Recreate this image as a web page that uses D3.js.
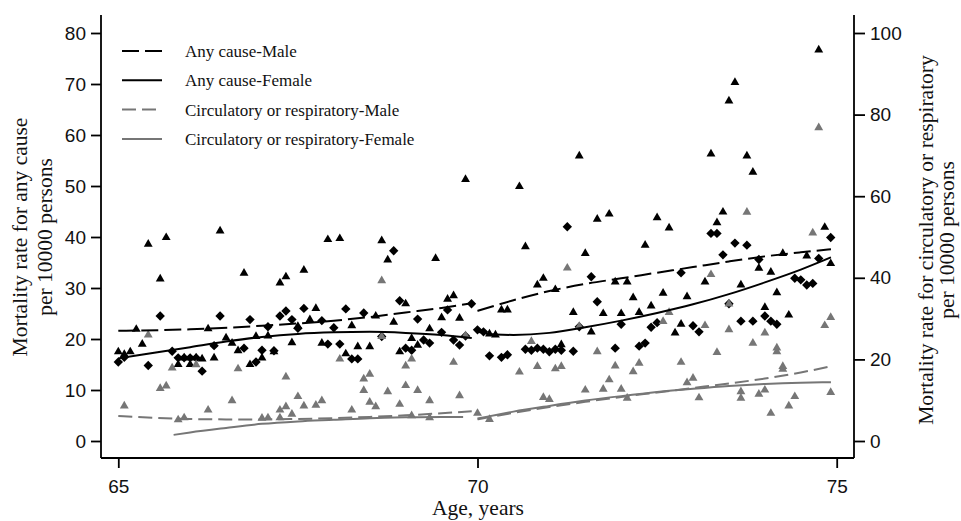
<!DOCTYPE html>
<html>
<head>
<meta charset="utf-8">
<script src="https://cdn.jsdelivr.net/npm/d3@7"></script>
<style>
  body { margin: 0; background: #fff; }
  svg { display: block; font-family: 'Liberation Serif', 'Times New Roman', serif; }
  .axis path { display: none; }
  .axis line { stroke: #000; stroke-width: 1.8; }
  .axis text { font-size: 19px; fill: #111; }
  .title { font-size: 21.5px; fill: #111; }
  .legend-label { font-size: 17px; fill: #111; }
</style>
</head>
<body>
<svg id="chart" width="961" height="521"></svg>
<script>
// [months after 65th birthday, rate per 10000]
const anyMale = [[0,17.5],[1,17.0],[2,17.5],[3,21.9],[4,19.0],[5,38.6],[7,31.8],[8,39.9],[10,15.0],[11,16.3],[12,15.0],[13,16.3],[14,16.1],[15,22.0],[16,16.3],[17,41.2],[18,20.2],[19,19.2],[20,17.7],[21,32.9],[22,15.0],[23,20.5],[24,16.3],[25,20.6],[26,17.5],[27,31.0],[28,32.2],[29,19.3],[30,22.5],[31,33.5],[32,23.8],[33,26.0],[34,19.2],[35,39.5],[37,39.7],[38,17.1],[39,22.6],[40,18.5],[42,18.5],[43,24.5],[44,39.3],[45,35.5],[46,23.3],[47,17.5],[48,26.9],[49,20.1],[50,18.8],[52,22.0],[53,35.8],[54,24.2],[55,27.8],[56,28.5],[57,24.1],[58,51.3],[62,21.0],[63,20.8],[64,25.7],[65,25.7],[67,49.9],[68,38.1],[70,30.6],[71,31.9],[73,29.7],[74,18.9],[76,25.2],[77,55.9],[78,36.8],[79,21.4],[80,43.5],[81,25.0],[82,44.5],[83,31.2],[84,25.0],[85,31.2],[86,28.1],[87,25.2],[88,38.4],[89,26.5],[90,43.8],[91,29.0],[92,41.8],[93,21.2],[94,22.9],[95,28.3],[98,31.2],[99,56.3],[100,42.8],[101,44.9],[102,66.7],[103,70.3],[104,30.6],[105,55.9],[106,52.7],[107,33.9],[108,26.2],[109,33.1],[110,29.1],[111,36.8],[112,24.7],[115,36.3],[117,76.7],[118,41.9],[119,34.8]];

const anyFemale = [[0,15.5],[1,16.4],[5,14.8],[7,24.5],[9,17.6],[10,16.3],[11,16.3],[12,16.3],[13,16.3],[14,13.7],[16,18.7],[17,24.5],[21,18.2],[22,23.8],[23,15.5],[24,17.8],[25,22.4],[26,17.7],[27,24.5],[28,25.5],[29,23.8],[30,22.1],[31,26.0],[34,23.6],[35,19.0],[36,22.2],[37,19.0],[38,25.9],[39,16.1],[40,16.1],[41,25.1],[44,20.5],[46,37.3],[47,27.5],[48,18.2],[49,17.8],[50,23.9],[51,19.8],[52,19.2],[54,21.3],[55,25.7],[56,19.8],[57,18.8],[58,20.6],[59,26.9],[60,21.8],[61,21.4],[62,16.7],[64,16.4],[65,16.9],[68,18.0],[69,17.8],[70,18.2],[71,18.0],[72,17.5],[73,18.0],[74,17.8],[75,42.0],[76,17.6],[77,22.4],[79,32.2],[80,27.3],[83,18.2],[84,22.9],[87,18.6],[88,19.2],[89,22.3],[90,23.2],[94,33.0],[96,22.6],[97,21.4],[99,40.7],[100,40.7],[101,36.5],[102,26.9],[103,38.8],[104,23.5],[105,38.4],[106,23.5],[107,35.6],[108,24.5],[109,23.5],[110,22.9],[113,31.9],[114,31.6],[115,30.6],[116,30.9],[117,35.8],[119,39.9]];

// circulatory or respiratory, male (right axis)
const circMale = [[1,8.6],[5,26.0],[7,12.9],[8,13.5],[9,17.9],[10,5.2],[11,5.7],[13,18.7],[15,7.6],[19,9.9],[20,17.7],[24,5.6],[25,5.7],[27,7.6],[27,5.7],[28,8.4],[28,15.7],[29,6.6],[30,10.9],[31,8.6],[33,8.8],[34,9.9],[37,20.1],[39,7.6],[41,15.2],[41,12.4],[42,16.4],[42,9.5],[43,8.4],[44,39.3],[44,25.6],[45,12.1],[47,9.0],[48,18.4],[48,13.6],[49,20.1],[49,6.2],[50,12.4],[52,9.9],[52,5.7],[56,19.3],[57,11.1],[58,25.8],[60,6.8],[62,5.3],[67,16.9],[69,24.4],[70,18.3],[71,10.7],[72,10.2],[73,17.7],[74,18.3],[75,42.4],[77,28.1],[78,12.5],[80,21.9],[81,12.7],[82,15.0],[83,18.4],[84,12.7],[85,10.5],[86,17.0],[87,19.1],[91,29.3],[92,31.5],[94,19.3],[95,14.3],[96,15.4],[97,10.6],[98,28.3],[99,40.8],[100,21.7],[102,27.3],[102,33.6],[104,12.1],[104,10.5],[105,56.1],[106,24.0],[107,11.5],[108,12.5],[108,26.5],[109,6.8],[110,22.8],[110,21.9],[111,18.3],[111,17.6],[112,8.6],[113,10.9],[116,51.0],[117,76.8],[118,28.3],[119,30.3],[119,11.9]];

// fitted curves, [age, rate], each side of age 70
const fitAnyMale = [
  [[65,21.6],[66,21.9],[67,22.6],[68,23.6],[68.5,24.3],[69,25.2],[69.5,26.1],[69.92,27.0]],
  [[70,25.5],[70.5,27.6],[71,29.4],[71.5,30.8],[72,31.9],[72.5,33.0],[73,34.1],[73.5,35.2],[74,36.2],[74.5,37.0],[74.92,37.6]]
];
const fitAnyFemale = [
  [[65,16.2],[65.5,17.3],[66,18.4],[66.5,19.5],[67,20.4],[67.5,21.0],[68,21.3],[68.5,21.4],[69,21.2],[69.5,20.8],[69.92,20.2]],
  [[70,21.4],[70.25,20.9],[70.5,20.8],[71,21.2],[71.5,22.3],[72,23.6],[72.5,25.1],[73,26.8],[73.5,28.8],[74,31.1],[74.5,33.6],[74.92,36.0]]
];
const fitCircMale = [
  [[65,6.1],[65.5,5.7],[66,5.4],[66.5,5.3],[67,5.3],[67.5,5.4],[68,5.6],[68.5,5.9],[69,6.3],[69.5,6.8],[69.92,7.3]],
  [[70,5.3],[70.5,6.9],[71,8.3],[71.5,9.6],[72,10.8],[72.5,11.9],[73,13.0],[73.5,14.1],[74,15.3],[74.5,16.8],[74.92,18.3]]
];
const fitCircFemale = [
  [[65.77,1.5],[66,2.1],[66.5,3.2],[67,4.2],[67.5,4.8],[68,5.2],[68.5,5.6],[69,5.8],[69.5,5.9],[69.8,5.9]],
  [[70,5.5],[70.5,7.2],[71,8.6],[71.5,9.9],[72,11.0],[72.5,12.0],[73,12.8],[73.5,13.5],[74,14.0],[74.5,14.3],[74.92,14.4]]
];

const xTicks = [65, 70, 75];
const leftTicks = [0, 10, 20, 30, 40, 50, 60, 70, 80];
const rightTicks = [0, 20, 40, 60, 80, 100];
const legendLabels = ['Any cause-Male', 'Any cause-Female', 'Circulatory or respiratory-Male', 'Circulatory or respiratory-Female'];

const svg = d3.select('#chart');
const box = { left: 101, right: 854, top: 15, bottom: 458 };

const x = d3.scaleLinear().domain([65, 75]).range([118.3, 836.7]);
const yLeft = d3.scaleLinear().domain([0, 80]).range([441, 33]);
const yRight = d3.scaleLinear().domain([0, 100]).range([441, 33]);
const age = (m) => 65 + m / 12;

const black = '#000';
const gray = '#767676';

// frame
const frame = svg.append('g').attr('stroke', '#000').attr('stroke-width', 1.8);
frame.append('line').attr('x1', box.left).attr('x2', box.left).attr('y1', box.top).attr('y2', box.bottom);
frame.append('line').attr('x1', box.right).attr('x2', box.right).attr('y1', box.top).attr('y2', box.bottom);
frame.append('line').attr('x1', box.left).attr('x2', box.right).attr('y1', box.bottom).attr('y2', box.bottom);

// axes
svg.append('g').attr('class', 'axis')
  .attr('transform', `translate(${box.left},0)`)
  .call(d3.axisLeft(yLeft).tickValues(leftTicks).tickSize(10).tickPadding(5));
svg.append('g').attr('class', 'axis')
  .attr('transform', `translate(${box.right},0)`)
  .call(d3.axisRight(yRight).tickValues(rightTicks).tickSize(11).tickPadding(5));
svg.append('g').attr('class', 'axis')
  .attr('transform', `translate(0,${box.bottom})`)
  .call(d3.axisBottom(x).tickValues(xTicks).tickSize(10).tickPadding(12));

// markers
const triangle = d3.symbol().type(d3.symbolTriangle).size(34);
const square = d3.symbol().type(d3.symbolSquare).size(44);

svg.append('g').selectAll('path').data(anyMale).join('path')
  .attr('d', triangle)
  .attr('transform', (d) => `translate(${x(age(d[0]))},${yLeft(d[1])})`)
  .attr('fill', black);

svg.append('g').selectAll('path').data(anyFemale).join('path')
  .attr('d', square)
  .attr('transform', (d) => `translate(${x(age(d[0]))},${yLeft(d[1])}) rotate(45)`)
  .attr('fill', black);

svg.append('g').selectAll('path').data(circMale).join('path')
  .attr('d', triangle)
  .attr('transform', (d) => `translate(${x(age(d[0]))},${yRight(d[1])})`)
  .attr('fill', gray);

// fitted lines
const lineLeft = d3.line().x((d) => x(d[0])).y((d) => yLeft(d[1])).curve(d3.curveMonotoneX);
const lineRight = d3.line().x((d) => x(d[0])).y((d) => yRight(d[1])).curve(d3.curveMonotoneX);

const fits = [
  { data: fitAnyMale, line: lineLeft, color: black, dash: '17,6' },
  { data: fitAnyFemale, line: lineLeft, color: black, dash: null },
  { data: fitCircMale, line: lineRight, color: gray, dash: '14,6' },
  { data: fitCircFemale, line: lineRight, color: gray, dash: null }
];

fits.forEach((f) => {
  svg.append('g').selectAll('path').data(f.data).join('path')
    .attr('d', f.line)
    .attr('fill', 'none')
    .attr('stroke', f.color)
    .attr('stroke-width', 2)
    .attr('stroke-dasharray', f.dash);
});

// legend
const legend = svg.append('g').attr('transform', 'translate(122,51)');
const rows = legend.selectAll('g').data(legendLabels).join('g')
  .attr('transform', (d, i) => `translate(0,${i * 29.3})`);
rows.append('line')
  .attr('x1', 0).attr('x2', 40)
  .attr('stroke', (d, i) => fits[i].color)
  .attr('stroke-width', 2)
  .attr('stroke-dasharray', (d, i) => fits[i].dash);
rows.append('text')
  .attr('class', 'legend-label')
  .attr('x', 63)
  .attr('dy', '0.35em')
  .text((d) => d);

// axis titles
svg.append('text').attr('class', 'title').attr('text-anchor', 'middle')
  .attr('transform', 'translate(27,237) rotate(-90)')
  .text('Mortality rate for any cause');
svg.append('text').attr('class', 'title').attr('text-anchor', 'middle')
  .attr('transform', 'translate(52,237) rotate(-90)')
  .text('per 10000 persons');
svg.append('text').attr('class', 'title').attr('text-anchor', 'middle')
  .attr('transform', 'translate(933,240) rotate(-90)')
  .text('Mortality rate for circulatory or respiratory');
svg.append('text').attr('class', 'title').attr('text-anchor', 'middle')
  .attr('transform', 'translate(954,240) rotate(-90)')
  .text('per 10000 persons');
svg.append('text').attr('class', 'title').attr('text-anchor', 'middle')
  .attr('x', 478).attr('y', 515)
  .text('Age, years');
</script>
</body>
</html>
